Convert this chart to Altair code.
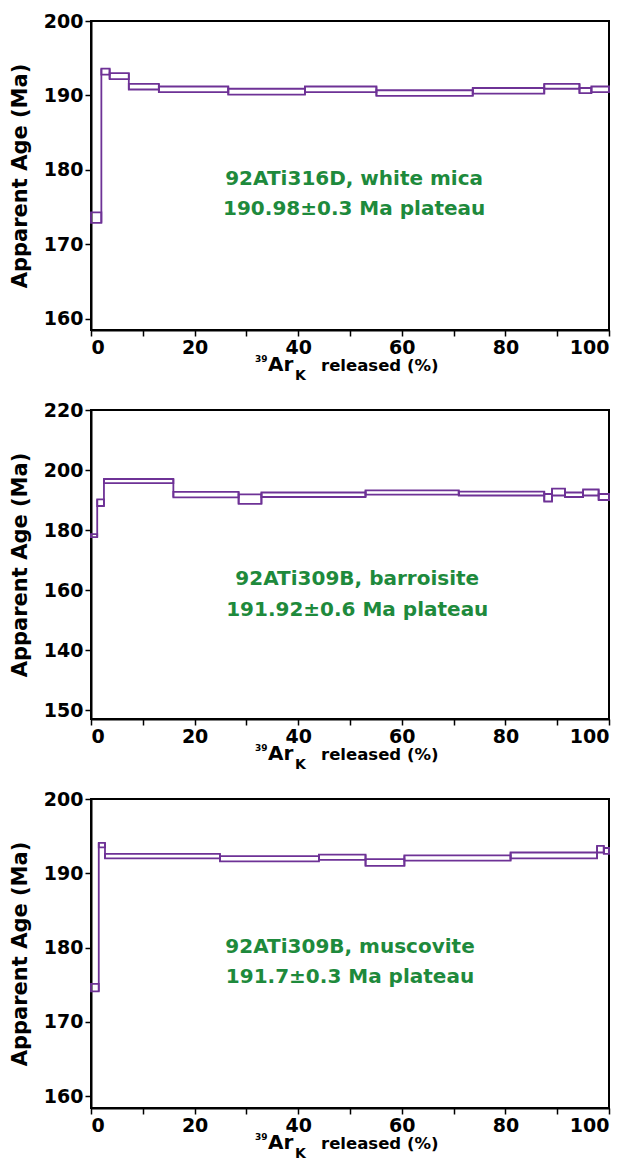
import altair as alt
import pandas as pd

# ---------------- data ----------------
# Panel 1: 92ATi316D, white mica
p1_edges = [0, 2.0, 3.6, 7.3, 13.1, 26.5, 41.3, 55.1, 73.7, 87.5, 94.3, 96.6, 100]
p1_lo = [172.9, 192.8, 192.2, 190.8, 190.45, 190.1, 190.45, 189.95, 190.25, 190.9, 190.3, 190.45]
p1_hi = [174.3, 193.6, 193.0, 191.55, 191.2, 190.9, 191.2, 190.7, 191.0, 191.55, 191.0, 191.2]

# Panel 2: 92ATi309B, barroisite
p2_edges = [0, 1.2, 2.5, 15.9, 28.5, 32.9, 53.0, 71.0, 87.5, 89.0, 91.5, 95.0, 98.0, 100]
p2_lo = [177.6, 188.0, 195.6, 190.9, 188.7, 191.0, 191.8, 191.5, 189.5, 191.5, 191.0, 191.5, 190.0]
p2_hi = [178.6, 190.2, 197.0, 192.7, 191.9, 192.5, 193.2, 192.8, 192.0, 193.8, 192.5, 193.5, 192.0]

# Panel 3: 92ATi309B, muscovite
p3_edges = [0, 1.5, 2.7, 24.9, 44.0, 53.0, 60.5, 81.0, 97.7, 99.0, 100]
p3_lo = [174.1, 193.5, 192.0, 191.6, 191.8, 191.0, 191.7, 192.0, 192.8, 192.6]
p3_hi = [175.1, 194.1, 192.6, 192.3, 192.5, 191.9, 192.4, 192.8, 193.7, 193.4]

p1_text = ["92ATi316D, white mica", "190.98\u00b10.3 Ma plateau"]
p2_text = ["92ATi309B, barroisite", "191.92\u00b10.6 Ma plateau"]
p3_text = ["92ATi309B, muscovite", "191.7\u00b10.3 Ma plateau"]
p1_text_y = [178.8, 174.8]
p2_text_y = [163.6, 153.5]
p3_text_y = [180.1, 176.0]
p1_text_x = 50.8
p2_text_x = 51.4
p3_text_x = 50.0

p1_ydomain = [158.5, 200]
p2_ydomain = [117, 220]
p3_ydomain = [158.4, 200]
p1_yticks = [160, 170, 180, 190, 200]
p2_yticks = [120, 140, 160, 180, 200, 220]
p3_yticks = [160, 170, 180, 190, 200]
x_ticks = [0, 10, 20, 30, 40, 50, 60, 70, 80, 90, 100]

x_title_parts = ["39", "Ar", "K", "released (%)"]

PURPLE = "#6e3296"
GREEN = "#1e8a3c"
FONT = "DejaVu Sans"
W, H = 518, 309


def panel(edges, lo, hi, ydom, yticks, texts, text_y, text_x, label_expr=None):
    steps = pd.DataFrame({"x0": edges[:-1], "x1": edges[1:], "lo": lo, "hi": hi})
    conn = pd.DataFrame({
        "x": edges[1:-1],
        "lo": [min(a, b) for a, b in zip(lo[:-1], lo[1:])],
        "hi": [max(a, b) for a, b in zip(hi[:-1], hi[1:])],
    })
    xs = alt.Scale(domain=[0, 100], nice=False, zero=False)
    ys = alt.Scale(domain=ydom, nice=False, zero=False)
    yaxis_kw = dict(values=yticks, title="Apparent Age (Ma)")
    if label_expr:
        yaxis_kw["labelExpr"] = label_expr
    xaxis = alt.Axis(values=x_ticks, title=None,
                     labelExpr="datum.value % 20 == 0 ? datum.label : ''")
    boxes = alt.Chart(steps).mark_rect(fillOpacity=0, stroke=PURPLE, strokeWidth=1.8).encode(
        x=alt.X("x0:Q", scale=xs, axis=xaxis),
        x2="x1:Q",
        y=alt.Y("lo:Q", scale=ys, axis=alt.Axis(**yaxis_kw)),
        y2="hi:Q",
    )
    rules = alt.Chart(conn).mark_rule(color=PURPLE, strokeWidth=1.8).encode(
        x=alt.X("x:Q", scale=xs), y=alt.Y("lo:Q", scale=ys), y2="hi:Q"
    )
    tdf = pd.DataFrame({"t": texts, "x": [text_x] * len(texts), "y": text_y})
    ann = alt.Chart(tdf).mark_text(font=FONT, fontWeight="bold", fontSize=20, color=GREEN,
                                   align="center", baseline="middle").encode(
        x=alt.X("x:Q", scale=xs), y=alt.Y("y:Q", scale=ys), text="t:N"
    )
    # composite x-axis title: superscript 39, Ar, subscript K, released (%)
    specs = [(164, 32, 9), (177, 41, 20), (204, 50, 14), (230, 41, 16.5)]
    tparts = []
    for txt, (dx, dy, fs) in zip(x_title_parts, specs):
        tparts.append(
            alt.Chart(pd.DataFrame({"t": [txt]})).mark_text(
                font=FONT, fontWeight="bold", fontSize=fs, color="black",
                align="left", baseline="alphabetic").encode(
                x=alt.value(dx), y=alt.value(H + dy), text="t:N")
        )
    return alt.layer(boxes, rules, ann, *tparts).properties(width=W, height=H)


c1 = panel(p1_edges, p1_lo, p1_hi, p1_ydomain, p1_yticks, p1_text, p1_text_y, p1_text_x)
c2 = panel(p2_edges, p2_lo, p2_hi, p2_ydomain, p2_yticks, p2_text, p2_text_y, p2_text_x,
           label_expr="datum.value == 120 ? '150' : datum.label")
c3 = panel(p3_edges, p3_lo, p3_hi, p3_ydomain, p3_yticks, p3_text, p3_text_y, p3_text_x)

chart = alt.vconcat(c1, c2, c3, spacing=80, bounds="flush").properties(
    padding={"left": 8, "top": 11, "right": 5, "bottom": 3},
    background="white",
).configure_view(stroke="black", strokeWidth=2).configure_axis(
    grid=False,
    labelFont=FONT, labelFontWeight="bold", labelFontSize=19, labelColor="black",
    titleFont=FONT, titleFontWeight="bold", titleFontSize=21, titleColor="black",
    domainColor="black", domainWidth=2, tickColor="black", tickWidth=1.5, tickSize=6,
    labelPadding=2, titlePadding=13,
)

chart.save("out.html", embed_options={"renderer": "svg", "actions": False})
